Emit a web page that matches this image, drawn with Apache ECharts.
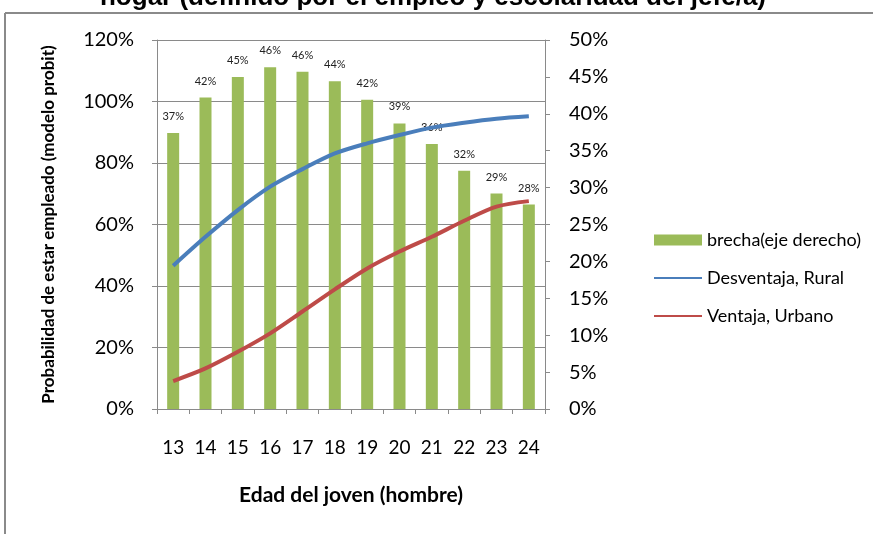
<!DOCTYPE html>
<html>
<head>
<meta charset="utf-8">
<script src="https://cdn.jsdelivr.net/npm/echarts@6/dist/echarts.min.js"></script>
<style>
html,body{margin:0;padding:0;background:#fff;}
#c{width:873px;height:534px;}
</style>
</head>
<body>
<div id="c"></div>
<script>
const categories = ['13','14','15','16','17','18','19','20','21','22','23','24'];
const brecha = [0.374, 0.422, 0.450, 0.463, 0.457, 0.444, 0.419, 0.387, 0.359, 0.323, 0.292, 0.277];
const rural = [0.466, 0.560, 0.647, 0.723, 0.780, 0.831, 0.864, 0.891, 0.915, 0.931, 0.944, 0.952];
const urbano = [0.091, 0.132, 0.186, 0.246, 0.317, 0.389, 0.457, 0.512, 0.560, 0.612, 0.658, 0.676];
const titleText = 'hogar (definido por el empleo y escolaridad del jefe/a)';

const font = 'Lato, "Open Sans", sans-serif';
const chart = echarts.init(document.getElementById('c'));
chart.setOption({
  animation: false,
  backgroundColor: '#fff',
  textStyle: {fontFamily: font},
  graphic: [
    {type: 'text', x: 433, y: -15, style: {text: titleText, align: 'center', verticalAlign: 'top', font: 'bold 26px "Liberation Sans", Arial, sans-serif', fill: '#000'}},
    {type: 'rect', shape: {x: 0, y: 10, width: 873, height: 3}, style: {fill: '#fff'}},
    {type: 'line', shape: {x1: 5, y1: 13, x2: 5, y2: 534}, style: {stroke: '#8a8a8a', lineWidth: 2}},
    {type: 'line', shape: {x1: 5, y1: 13, x2: 873, y2: 13}, style: {stroke: '#8a8a8a', lineWidth: 2}}
  ],
  grid: {left: 157, right: 328, top: 40, bottom: 125},
  legend: {
    orient: 'vertical', left: 649, top: 226, itemGap: 20, itemWidth: 48, itemHeight: 11,
    textStyle: {fontSize: 18, color: '#000', fontFamily: font},
    data: [
      {name: 'brecha(eje derecho)', icon: 'rect'},
      {name: 'Desventaja, Rural', icon: 'path://M0,4 L48,4 L48,6 L0,6 Z'},
      {name: 'Ventaja, Urbano', icon: 'path://M0,4 L48,4 L48,6 L0,6 Z'}
    ]
  },
  xAxis: {
    type: 'category', data: categories, boundaryGap: true,
    name: 'Edad del joven (hombre)', nameLocation: 'middle', nameGap: 76,
    nameTextStyle: {fontSize: 21, fontWeight: 'bold', color: '#000'},
    axisLine: {lineStyle: {color: '#8a8a8a'}},
    axisTick: {show: true, alignWithLabel: false, length: 5, lineStyle: {color: '#8a8a8a'}},
    axisLabel: {fontSize: 19, color: '#000', margin: 29}
  },
  yAxis: [
    {
      type: 'value', min: 0, max: 1.2, interval: 0.2, position: 'left',
      name: 'Probabilidad de estar empleado (modelo probit)', nameLocation: 'middle', nameGap: 100,
      nameRotate: 90,
      nameTextStyle: {fontSize: 17, fontWeight: 'bold', color: '#000'},
      axisLine: {show: true, lineStyle: {color: '#8a8a8a'}},
      axisTick: {show: true, length: 5, lineStyle: {color: '#8a8a8a'}},
      splitLine: {show: true, lineStyle: {color: '#8a8a8a', width: 1}},
      axisLabel: {fontSize: 20, color: '#000', margin: 23, formatter: v => Math.round(v * 100) + '%'}
    },
    {
      type: 'value', min: 0, max: 0.5, interval: 0.05, position: 'right',
      axisLine: {show: true, lineStyle: {color: '#8a8a8a'}},
      axisTick: {show: true, length: 5, lineStyle: {color: '#8a8a8a'}},
      splitLine: {show: false},
      axisLabel: {fontSize: 20, color: '#000', margin: 24, formatter: v => Math.round(v * 100) + '%'}
    }
  ],
  series: [
    {
      name: 'brecha(eje derecho)', type: 'bar', yAxisIndex: 1, data: brecha, barWidth: 12,
      itemStyle: {color: '#9bbb59'},
      label: {show: true, position: 'top', distance: 11, fontSize: 11, color: '#222',
        formatter: p => Math.round(p.value * 100) + '%'}
    },
    {
      name: 'Desventaja, Rural', type: 'line', yAxisIndex: 0, data: rural, smooth: 0.3,
      symbol: 'none', lineStyle: {color: '#4a7ebb', width: 4}, itemStyle: {color: '#4a7ebb'}
    },
    {
      name: 'Ventaja, Urbano', type: 'line', yAxisIndex: 0, data: urbano, smooth: 0.3,
      symbol: 'none', lineStyle: {color: '#be4b48', width: 4}, itemStyle: {color: '#be4b48'}
    }
  ]
});
</script>
</body>
</html>
